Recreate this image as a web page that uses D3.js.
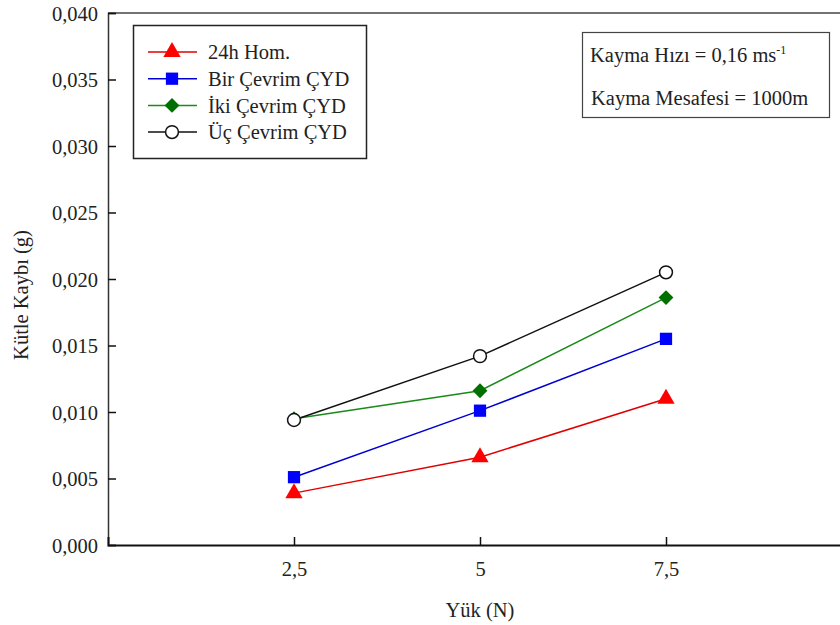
<!DOCTYPE html>
<html>
<head>
<meta charset="utf-8">
<script src="https://cdn.jsdelivr.net/npm/d3@7"></script>
<style>
  body { margin: 0; background: #fff; }
  svg text { font-family: "Liberation Serif", "DejaVu Serif", serif; fill: #222; }
</style>
</head>
<body>
<div id="chart"></div>
<script>
const loads = [2.5, 5, 7.5]
const seriesNames = ['24h Hom.', 'Bir Çevrim ÇYD', 'İki Çevrim ÇYD', 'Üç Çevrim ÇYD']
const hom24 = [0.0039, 0.0066, 0.0110]
const birCycle = [0.0051, 0.0101, 0.0155]
const ikiCycle = [0.0095, 0.0116, 0.0186]
const ucCycle = [0.0094, 0.0142, 0.0205]
const yTicks = [0, 0.005, 0.010, 0.015, 0.020, 0.025, 0.030, 0.035, 0.040]

const width = 840, height = 625
const margin = {top: 13, left: 108, bottom: 80}
const fontSize = '20.5px'

const svg = d3.select('#chart').append('svg')
    .attr('width', width)
    .attr('height', height)
    .attr('font-family', '"Liberation Serif", serif')

const x = d3.scaleLinear().domain([0, 10]).range([margin.left, margin.left + 744])
const y = d3.scaleLinear().domain([0, 0.04]).range([height - margin.bottom, margin.top])

const fmt = d => d3.format('.3f')(d).replace('.', ',')

// frame top line
svg.append('line')
    .attr('x1', margin.left).attr('x2', width)
    .attr('y1', y(0.04)).attr('y2', y(0.04))
    .attr('stroke', '#444').attr('stroke-width', 1.5)

// y axis
const yAxis = svg.append('g')
    .attr('transform', `translate(${margin.left},0)`)
    .call(d3.axisRight(y).tickValues(yTicks).tickSize(8).tickFormat(''))
yAxis.attr('font-family', null).attr('font-size', null)
yAxis.select('.domain').attr('stroke', '#333').attr('stroke-width', 1.5)
yAxis.selectAll('.tick line').attr('stroke', '#111').attr('stroke-width', 1.5)
yAxis.selectAll('.tick').append('text')
    .attr('x', -10).attr('dy', '0.35em')
    .attr('text-anchor', 'end')
    .style('font-size', fontSize)
    .text(d => fmt(d))

// x axis
const xAxis = svg.append('g')
    .attr('transform', `translate(0,${y(0)})`)
    .call(d3.axisTop(x).tickValues(loads).tickSize(8).tickFormat(''))
xAxis.attr('font-family', null).attr('font-size', null)
xAxis.select('.domain').attr('stroke', '#111').attr('stroke-width', 2)
xAxis.selectAll('.tick line').attr('stroke', '#111').attr('stroke-width', 1.5)
xAxis.selectAll('.tick').append('text')
    .attr('y', 31)
    .attr('text-anchor', 'middle')
    .style('font-size', fontSize)
    .text(d => String(d).replace('.', ','))

svg.append('text')
    .attr('x', x(5)).attr('y', 617)
    .attr('text-anchor', 'middle')
    .style('font-size', fontSize)
    .text('Yük (N)')

svg.append('text')
    .attr('transform', `translate(28,${(y(0) + y(0.04)) / 2 + 16}) rotate(-90)`)
    .attr('text-anchor', 'middle')
    .style('font-size', fontSize)
    .text('Kütle Kaybı (g)')

const series = [
    {name: seriesNames[0], values: hom24, color: '#e00000', fill: '#ff0000', symbol: d3.symbolTriangle, size: 130, rot: 0},
    {name: seriesNames[1], values: birCycle, color: '#0000d0', fill: '#0000ff', symbol: d3.symbolSquare, size: 150, rot: 0},
    {name: seriesNames[2], values: ikiCycle, color: '#1a8a1a', fill: '#007000', symbol: d3.symbolSquare, size: 110, rot: 45},
    {name: seriesNames[3], values: ucCycle, color: '#111', fill: '#fff', symbol: d3.symbolCircle, size: 130, rot: 0}
]

const line = d3.line().x(d => x(d[0])).y(d => y(d[1]))

function marker (g, s) {
    g.append('path')
        .attr('d', d3.symbol().type(s.symbol).size(s.size)())
        .attr('transform', `rotate(${s.rot})`)
        .attr('fill', s.fill)
        .attr('stroke', s.symbol === d3.symbolCircle ? '#111' : 'none')
        .attr('stroke-width', 1.5)
}

series.forEach(s => {
    const pts = loads.map((l, i) => [l, s.values[i]])
    svg.append('path')
        .datum(pts)
        .attr('d', line)
        .attr('fill', 'none')
        .attr('stroke', s.color)
        .attr('stroke-width', 1.5)
    pts.forEach(p => {
        const g = svg.append('g').attr('transform', `translate(${x(p[0])},${y(p[1])})`)
        marker(g, s)
    })
})

// legend
const legend = svg.append('g')
legend.append('rect')
    .attr('x', 133.5).attr('y', 25.5).attr('width', 233).attr('height', 133)
    .attr('fill', '#fff').attr('stroke', '#222').attr('stroke-width', 1.5)
series.forEach((s, i) => {
    const ly = 52 + i * 26.7
    legend.append('line')
        .attr('x1', 148).attr('x2', 197).attr('y1', ly).attr('y2', ly)
        .attr('stroke', s.color).attr('stroke-width', 1.5)
    const g = legend.append('g').attr('transform', `translate(172,${ly})`)
    marker(g, s)
    legend.append('text')
        .attr('x', 208).attr('y', ly).attr('dy', '0.35em')
        .style('font-size', fontSize)
        .text(s.name)
})

// conditions box
const info = svg.append('g')
info.append('rect')
    .attr('x', 582.5).attr('y', 32.5).attr('width', 247).attr('height', 85)
    .attr('fill', '#fff').attr('stroke', '#444').attr('stroke-width', 1.2)
const t1 = info.append('text')
    .attr('x', 590).attr('y', 62)
    .style('font-size', fontSize)
t1.append('tspan').text('Kayma Hızı = 0,16 ms')
t1.append('tspan').attr('dy', -8).style('font-size', '12px').text('-1')
info.append('text')
    .attr('x', 591).attr('y', 105)
    .style('font-size', fontSize)
    .text('Kayma Mesafesi = 1000m')
</script>
</body>
</html>
